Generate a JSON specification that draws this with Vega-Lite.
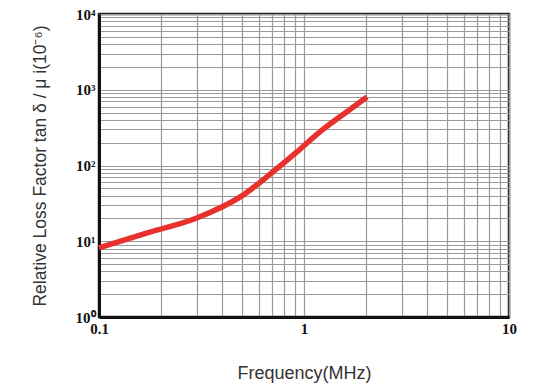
{
  "$schema": "https://vega.github.io/schema/vega-lite/v6.json",
  "width": 410,
  "height": 303,
  "autosize": "none",
  "padding": {"left": 99, "top": 14, "right": 26, "bottom": 68},
  "background": "white",
  "config": {
    "view": {"stroke": "#222", "strokeWidth": 2.5},
    "axis": {
      "grid": true,
      "gridColor": "#9a9a9a",
      "gridWidth": 1.2,
      "gridOpacity": 1,
      "ticks": false,
      "domain": true,
      "domainColor": "#111",
      "domainWidth": 3,
      "labelFont": "Liberation Serif",
      "labelFontWeight": "bold",
      "labelFontSize": 15,
      "labelColor": "#111",
      "labelFlush": false,
      "titleFont": "Liberation Sans",
      "titleFontWeight": "normal",
      "titleColor": "#333"
    }
  },
  "data": {
    "values": [
      {"f": 0.1, "v": 8.2},
      {"f": 0.177, "v": 13.2},
      {"f": 0.3, "v": 20.3},
      {"f": 0.5, "v": 40},
      {"f": 0.7, "v": 81},
      {"f": 0.92, "v": 150},
      {"f": 1.2, "v": 280},
      {"f": 1.6, "v": 500},
      {"f": 2.03, "v": 800}
    ]
  },
  "mark": {"type": "line", "color": "#e8302d", "strokeWidth": 5.5, "interpolate": "monotone", "strokeCap": "butt"},
  "encoding": {
    "x": {
      "field": "f",
      "type": "quantitative",
      "scale": {"type": "log", "domain": [0.1, 10], "nice": false},
      "axis": {
        "title": "Frequency(MHz)",
        "titleFontSize": 18,
        "titlePadding": 28,
        "labelPadding": 4,
        "values": [0.1, 0.2, 0.3, 0.4, 0.5, 0.6, 0.7, 0.8, 0.9, 1, 2, 3, 4, 5, 6, 7, 8, 9, 10],
        "labelExpr": "datum.value == 0.1 ? '0.1' : datum.value == 1 ? '1' : datum.value == 10 ? '10' : ''",
        "labelOverlap": false
      }
    },
    "y": {
      "field": "v",
      "type": "quantitative",
      "scale": {"type": "log", "domain": [1, 10000], "nice": false},
      "axis": {
        "title": "Relative Loss Factor tan δ / μ i(10⁻⁶)",
        "titleFontSize": 17.5,
        "titlePadding": 26,
        "labelPadding": 4,
        "values": [1, 2, 3, 4, 5, 6, 7, 8, 9, 10, 20, 30, 40, 50, 60, 70, 80, 90, 100, 200, 300, 400, 500, 600, 700, 800, 900, 1000, 2000, 3000, 4000, 5000, 6000, 7000, 8000, 9000, 10000],
        "labelExpr": "datum.value == 1 ? '10⁰' : datum.value == 10 ? '10¹' : datum.value == 100 ? '10²' : datum.value == 1000 ? '10³' : datum.value == 10000 ? '10⁴' : ''",
        "labelOverlap": false
      }
    }
  }
}
